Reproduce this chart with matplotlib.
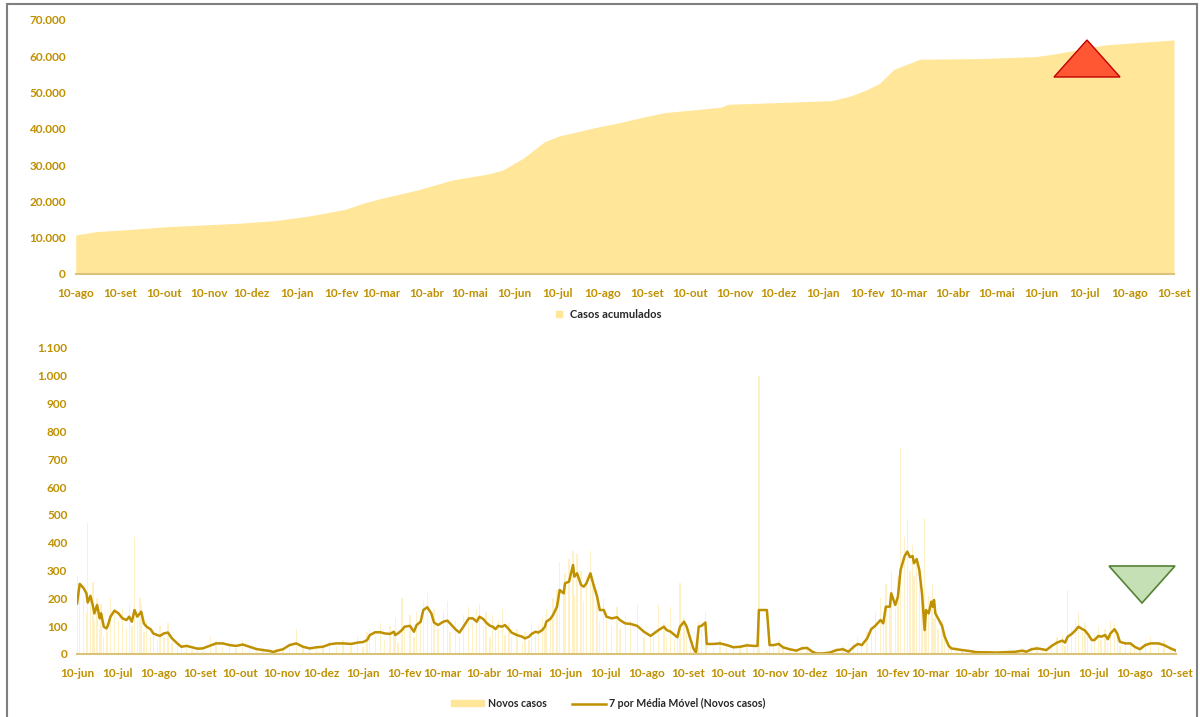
import numpy as np
import pandas as pd
import matplotlib
matplotlib.use('Agg')
import matplotlib.pyplot as plt
import matplotlib.dates as mdates
from matplotlib.ticker import FuncFormatter
from matplotlib.patches import Polygon, Rectangle
from matplotlib.lines import Line2D

plt.rcParams['font.family'] = ['Lato', 'DejaVu Sans']

# Casos acumulados (gráfico de cima)
datas_acum = ["2020-08-10", "2020-08-24", "2020-09-18", "2020-10-13", "2020-11-06", "2020-12-01", "2020-12-26",
              "2021-01-19", "2021-02-13", "2021-02-25", "2021-03-10", "2021-04-04", "2021-04-28", "2021-05-23",
              "2021-06-02", "2021-06-16", "2021-07-01", "2021-07-11", "2021-07-24", "2021-08-05", "2021-08-20",
              "2021-09-09", "2021-09-22", "2021-10-31", "2021-11-05", "2021-12-08",
              "2022-01-16", "2022-01-29", "2022-02-10", "2022-02-18", "2022-02-28", "2022-03-18", "2022-04-28",
              "2022-06-06", "2022-06-18", "2022-07-24", "2022-08-09", "2022-09-10"]
casos_acum = [10750, 11660, 12310, 13040, 13500, 13970, 14700,
              15980, 17820, 19480, 20860, 23150, 25900, 27560, 28660, 31880, 36470, 38030, 39220, 40330, 41530,
              43360, 44460, 45930, 46760, 47200,
              47770, 49060, 50900, 52550, 56400, 59170, 59340, 59890, 60540, 63110, 63580, 64490]

# Novos casos e média móvel (gráfico de baixo) - dias desde 10-jun-2020
inicio = pd.Timestamp("2020-06-10")
dias = [0, 2, 5, 7, 8, 10, 12, 13, 15, 17, 18, 20, 22, 23, 25, 28, 31, 34, 37, 39,
        41, 43, 45, 47, 48, 50, 52, 55, 57, 60, 62, 65, 68, 71, 75, 78, 82, 86, 90, 94,
        100, 104, 109, 114, 119, 124, 129, 134, 139, 144, 147, 149, 154, 159, 164, 169, 174, 179, 184, 189,
        194, 199,
        205, 210, 214, 217, 219, 223, 227, 230, 234, 237, 238, 240, 243, 245, 249, 252, 254, 257, 259, 262,
        265, 267, 270, 274, 277, 279, 283, 286, 289, 293, 296, 299, 301, 304, 306, 309, 311, 313, 315, 318,
        320, 323, 325, 329, 333, 335, 338, 340, 343, 345, 348, 350, 351, 354, 356, 359, 361, 364, 365, 368,
        371, 372, 374, 377, 379, 381, 384, 386, 389, 391, 394, 396, 400, 404, 406, 410,
        414, 419, 424, 429, 431, 435, 439, 441, 444, 447, 449, 451, 454, 456, 459, 461, 463, 465, 467, 470,
        471, 476, 481, 486, 491, 496, 501, 506, 509, 510, 516, 518, 521, 525, 528, 533, 538, 542, 546, 550,
        553, 558, 563, 568, 573, 577, 581, 584, 587, 591, 594, 597, 601, 603, 605, 608, 609, 612,
        614, 616, 619, 621, 623, 625, 626, 628, 630, 632, 634, 635, 637, 639, 640, 641, 642, 644, 647, 649,
        652, 654, 658, 662, 667, 672, 677, 682, 687, 692, 697, 702, 707, 710, 714, 718, 722, 725, 729, 733,
        737, 739, 741, 744, 747, 749, 752, 754, 756, 759, 761, 764, 766, 769, 771, 773, 776, 778, 780, 784,
        788, 791, 795, 799, 803, 809, 813, 818, 822]
media_movel = [182, 252, 236, 218, 185, 209, 170, 146, 176, 128, 146, 98, 92, 101, 134, 156, 146, 128, 122, 134,
               116, 158, 134, 146, 152, 110, 98, 89, 74, 68, 65, 74, 77, 56, 38, 26, 29, 24, 19, 20,
               31, 38, 38, 32, 29, 34, 26, 18, 14, 11, 7, 11, 17, 32, 38, 26, 20, 24, 26, 35,
               38, 38,
               36, 41, 43, 50, 68, 78, 78, 74, 72, 80, 68, 74, 86, 98, 101, 80, 104, 116, 158, 168,
               146, 113, 104, 116, 120, 110, 89, 77, 98, 128, 128, 116, 134, 125, 113, 101, 98, 89, 101, 98,
               104, 89, 77, 68, 62, 56, 62, 72, 80, 77, 86, 98, 116, 126, 140, 170, 230, 218, 254, 260,
               320, 278, 290, 248, 242, 254, 290, 254, 206, 158, 158, 134, 128, 132, 122, 110,
               108, 101, 80, 65, 72, 86, 98, 86, 80, 68, 60, 98, 116, 98, 50, 20, 5, 98, 101, 113,
               36, 36, 38, 32, 24, 26, 31, 29, 29, 158, 158, 32, 32, 36, 24, 17, 12, 20, 22, 8,
               2, 2, 5, 14, 17, 8, 26, 36, 32, 56, 89, 101, 122, 110, 170, 170, 218, 176,
               206, 302, 352, 368, 348, 352, 326, 341, 302, 218, 86, 158, 146, 188, 170, 194, 146, 128, 101, 62,
               29, 20, 17, 14, 11, 7, 6, 6, 5, 6, 7, 8, 12, 8, 17, 20, 17, 14, 29, 41,
               48, 41, 62, 72, 86, 98, 89, 84, 72, 50, 50, 65, 62, 68, 53, 74, 89, 74, 44, 38,
               38, 26, 17, 32, 38, 38, 32, 20, 12]
novos_casos = [280, 230, 200, 150, 470, 210, 260, 120, 200, 90, 180, 60, 110, 80, 200, 150, 120, 160, 90, 180,
               100, 420, 120, 200, 180, 80, 120, 60, 90, 50, 100, 60, 110, 40, 30, 20, 35, 15, 25, 10,
               60, 45, 30, 40, 20, 50, 30, 15, 20, 10, 5, 20, 15, 40, 90, 30, 15, 30, 20, 45,
               30, 50,
               30, 60, 25, 80, 90, 60, 110, 50, 100, 70, 130, 40, 200, 90, 140, 60, 150, 110, 190, 220,
               120, 160, 90, 150, 190, 80, 120, 60, 140, 170, 110, 160, 180, 100, 150, 60, 140, 80, 120, 160,
               70, 110, 60, 90, 40, 80, 50, 110, 70, 100, 130, 90, 160, 120, 200, 230, 330, 250, 290, 340,
               370, 210, 360, 300, 190, 280, 370, 250, 230, 120, 200, 150, 100, 170, 90, 140,
               120, 180, 60, 70, 90, 176, 110, 60, 170, 50, 80, 254, 130, 90, 30, 10, 0, 120, 90, 150,
               40, 20, 50, 30, 20, 25, 40, 30, 20, 1000, 10, 40, 30, 50, 20, 15, 10, 30, 25, 5,
               0, 5, 10, 20, 30, 5, 40, 60, 30, 80, 100, 150, 200, 120, 250, 190, 300, 160,
               280, 740, 420, 480, 300, 390, 280, 350, 250, 200, 490, 120, 210, 170, 250, 130, 180, 90, 120, 50,
               40, 15, 25, 10, 5, 10, 5, 8, 3, 10, 5, 12, 20, 5, 25, 30, 10, 20, 40, 60,
               70, 30, 230, 90, 120, 150, 80, 110, 60, 40, 70, 100, 50, 90, 40, 120, 110, 60, 30, 50,
               40, 20, 10, 45, 60, 40, 50, 20, 10]

meses = ['jan', 'fev', 'mar', 'abr', 'mai', 'jun', 'jul', 'ago', 'set', 'out', 'nov', 'dez']

ouro = '#BF9000'
amarelo = '#FFE699'

datas_a = pd.to_datetime(datas_acum)
datas_n = inicio + pd.to_timedelta(dias, unit='D')

fig = plt.figure(figsize=(12, 7.17), dpi=100)

fmt_x = FuncFormatter(lambda v, p: '10-' + meses[mdates.num2date(v).month - 1])
fmt_y = FuncFormatter(lambda v, p: f'{int(v):,}'.replace(',', '.'))


def estilo(ax):
    for s in ['top', 'right', 'left']:
        ax.spines[s].set_visible(False)
    ax.spines['bottom'].set_color('#D9C37A')
    ax.spines['bottom'].set_linewidth(1.5)
    ax.xaxis.set_major_locator(mdates.MonthLocator(bymonthday=10))
    ax.xaxis.set_major_formatter(fmt_x)
    ax.yaxis.set_major_formatter(fmt_y)
    ax.tick_params(axis='both', length=0, colors=ouro, labelsize=8.5)
    ax.tick_params(axis='x', pad=10)
    ax.tick_params(axis='y', pad=7)
    for t in ax.get_xticklabels() + ax.get_yticklabels():
        t.set_fontweight('bold')


# Gráfico de cima
ax1 = fig.add_axes([0.0631, 0.6179, 0.9152, 0.3543])
ax1.fill_between(datas_a, casos_acum, 0, color=amarelo, linewidth=0)
ax1.set_xlim(pd.Timestamp("2020-08-10"), pd.Timestamp("2022-09-10"))
ax1.set_ylim(0, 70000)
ax1.set_yticks(np.arange(0, 70001, 10000))
estilo(ax1)
for t in ax1.get_xticklabels() + ax1.get_yticklabels():
    t.set_fontweight('bold')
ax1.legend(handles=[Line2D([], [], marker='s', linestyle='', color=amarelo, markersize=4.5)],
           labels=['Casos acumulados'], loc='upper center', bbox_to_anchor=(0.482, -0.1),
           frameon=False, prop={'size': 8, 'weight': 'bold'}, handletextpad=0.0, labelcolor='#262626')

# Gráfico de baixo
ax2 = fig.add_axes([0.0642, 0.0879, 0.9158, 0.4268])
ax2.bar(datas_n, novos_casos, width=1.0, color=amarelo, alpha=0.55, linewidth=0, label='Novos casos')
ax2.plot(datas_n, media_movel, color=ouro, linewidth=1.8, label='7 por Média Móvel (Novos casos)')
ax2.set_xlim(pd.Timestamp("2020-06-10"), pd.Timestamp("2022-09-10"))
ax2.set_ylim(0, 1100)
ax2.set_yticks(np.arange(0, 1101, 100))
estilo(ax2)
for t in ax2.get_xticklabels() + ax2.get_yticklabels():
    t.set_fontweight('bold')
h_bar = Rectangle((0, 0), 1, 1, color=amarelo)
h_lin = Line2D([], [], color=ouro, linewidth=1.8)
ax2.legend(handles=[h_bar, h_lin], labels=['Novos casos', '7 por Média Móvel (Novos casos)'],
           loc='upper center', bbox_to_anchor=(0.483, -0.113), ncol=2, frameon=False,
           prop={'size': 7.6, 'weight': 'bold'}, handlelength=3.2, handleheight=0.5,
           columnspacing=2.4, handletextpad=0.3, labelcolor='#262626')

# Setas (triângulos)
tri_up = Polygon([[1054 / 1200, 1 - 77 / 717], [1087 / 1200, 1 - 40 / 717], [1120 / 1200, 1 - 77 / 717]],
                 closed=True, transform=fig.transFigure, facecolor='#FF5733', edgecolor='#C00000', linewidth=1)
tri_down = Polygon([[1109 / 1200, 1 - 566 / 717], [1175 / 1200, 1 - 566 / 717], [1142 / 1200, 1 - 603 / 717]],
                   closed=True, transform=fig.transFigure, facecolor='#C5E0B4', edgecolor='#548235', linewidth=1.2)
fig.patches.extend([tri_up, tri_down])

# Moldura
moldura = Rectangle((7 / 1200, -0.01), 1190 / 1200, 1.01 - 4 / 717, transform=fig.transFigure,
                    fill=False, edgecolor='#7F7F7F', linewidth=1.5)
fig.patches.append(moldura)

fig.savefig('out.png', dpi=100)
